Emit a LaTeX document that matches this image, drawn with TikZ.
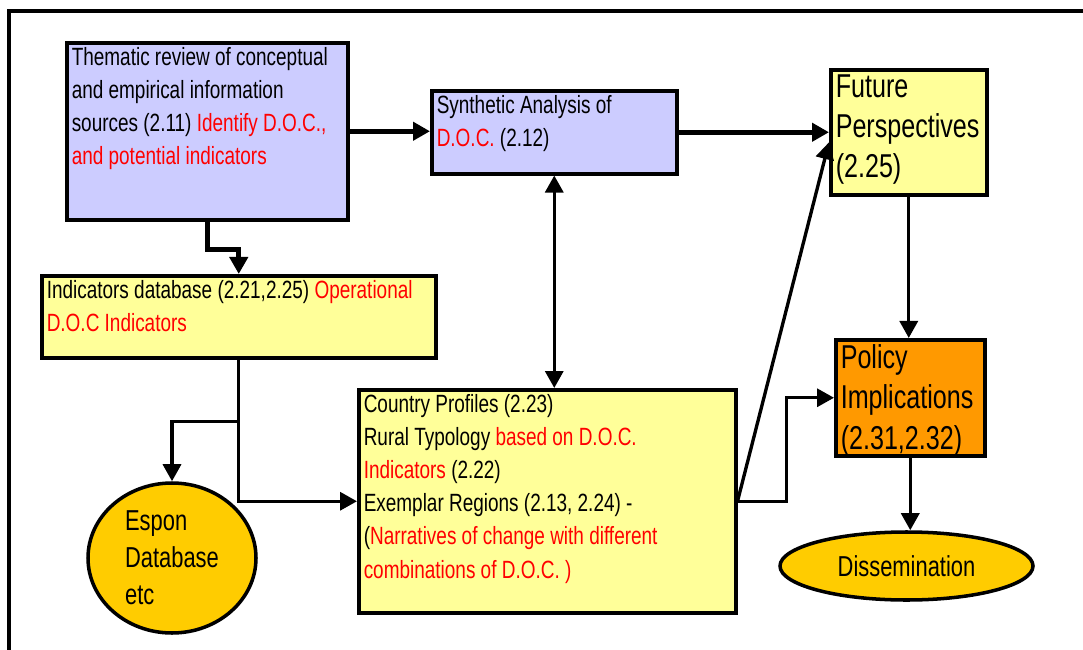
\documentclass[tikz,border=0pt]{standalone}
\usepackage{fontspec}
\setmainfont{Liberation Sans}[FakeStretch=0.76]
\usetikzlibrary{arrows.meta,shapes.geometric,calc}
\definecolor{lilac}{RGB}{204,204,255}
\definecolor{paleyellow}{RGB}{255,255,153}
\definecolor{policyorange}{RGB}{255,153,0}
\definecolor{espongold}{RGB}{255,204,0}
\newcommand{\rd}[1]{\textcolor{red}{#1}}
\newcommand{\boxfont}{\fontsize{14.2}{18.8}\selectfont}
\newcommand{\bigboxfont}{\fontsize{18.8}{22.9}\selectfont}
\newcommand{\blobfont}{\fontsize{16.4}{21}\selectfont}

\begin{document}
\begin{tikzpicture}[
    box/.style={draw,line width=2pt,anchor=north west,inner sep=0.1cm},
    blob/.style={draw,ellipse,line width=2pt,fill=espongold,inner sep=0pt,font=\blobfont},
    flow/.style={line width=1.9pt,-{Triangle[length=0.34cm,width=0.36cm]}},
    bigflow/.style={flow,line width=3pt},
    twoway/.style={line width=1.9pt,{Triangle[length=0.34cm,width=0.36cm]}-{Triangle[length=0.34cm,width=0.36cm]}}]
    \useasboundingbox (0,0) rectangle (21.66,-13);

    \draw[line width=2.2pt] (0.18,-13) -- (0.18,-0.22) -- (21.66,-0.22);

    \node[box,fill=lilac,font=\boxfont] (thematic) at (1.30,-0.82)
        {\parbox[t][3.34cm][t]{5.42cm}{\raggedright Thematic review of conceptual\\and empirical information\\sources (2.11) \rd{Identify D.O.C.,}\\\rd{and potential indicators}}};
    \node[box,fill=lilac,font=\boxfont] (synthetic) at (8.60,-1.78)
        {\parbox[t][1.46cm][t]{4.70cm}{\raggedright Synthetic Analysis of\\\rd{D.O.C.} (2.12)}};
    \node[box,fill=paleyellow,font=\bigboxfont] (future) at (16.58,-1.36)
        {\parbox[t][2.30cm][t]{2.92cm}{\raggedright Future\\Perspectives\\(2.25)}};
    \node[box,fill=paleyellow,font=\boxfont] (indicators) at (0.80,-5.48)
        {\parbox[t][1.44cm][t]{7.68cm}{\raggedright Indicators database (2.21,2.25) \rd{Operational}\\\rd{D.O.C Indicators}}};
    \node[box,fill=policyorange,font=\bigboxfont] (policy) at (16.68,-6.76)
        {\parbox[t][2.12cm][t]{2.78cm}{\raggedright Policy\\Implications\\(2.31,2.32)}};
    \node[box,fill=paleyellow,font=\boxfont] (country) at (7.14,-7.76)
        {\parbox[t][4.26cm][t]{7.34cm}{\raggedright Country Profiles (2.23)\\Rural Typology \rd{based on D.O.C.}\\\rd{Indicators} (2.22)\\Exemplar Regions (2.13, 2.24) -\\(\rd{Narratives of change with different}\\\rd{combinations of D.O.C. )}}};

    \node[blob,minimum width=3.36cm,minimum height=3.0cm,align=left] (espon) at (3.44,-11.16) {Espon\\Database\\etc};
    \node[blob,minimum width=5.06cm,minimum height=1.36cm] (dissem) at (18.13,-11.32) {Dissemination\hspace{0.4cm}};

    \draw[bigflow] (thematic.east) -- (synthetic.west |- thematic.east);
    \draw[bigflow] (thematic.south) -- ++(0,-0.56) -| (indicators.north);
    \draw[bigflow] (synthetic.east) -- (future.west |- synthetic.east);
    \draw[twoway] (synthetic.south) -- (synthetic.south |- country.north);
    \draw[flow] (country.east) -- ([yshift=-0.2cm]future.west);
    \draw[flow] (country.east) -- ++(0.98,0) |- (policy.west);
    \draw[flow] (future.south) -- (future.south |- policy.north);
    \draw[flow] (policy.south) -- (policy.south |- dissem.north);
    \draw[flow] (indicators.south) |- (country.west);
    \draw[flow] ($(indicators.south)+(0,-1.24)$) -| (espon.north);
\end{tikzpicture}
\end{document}
